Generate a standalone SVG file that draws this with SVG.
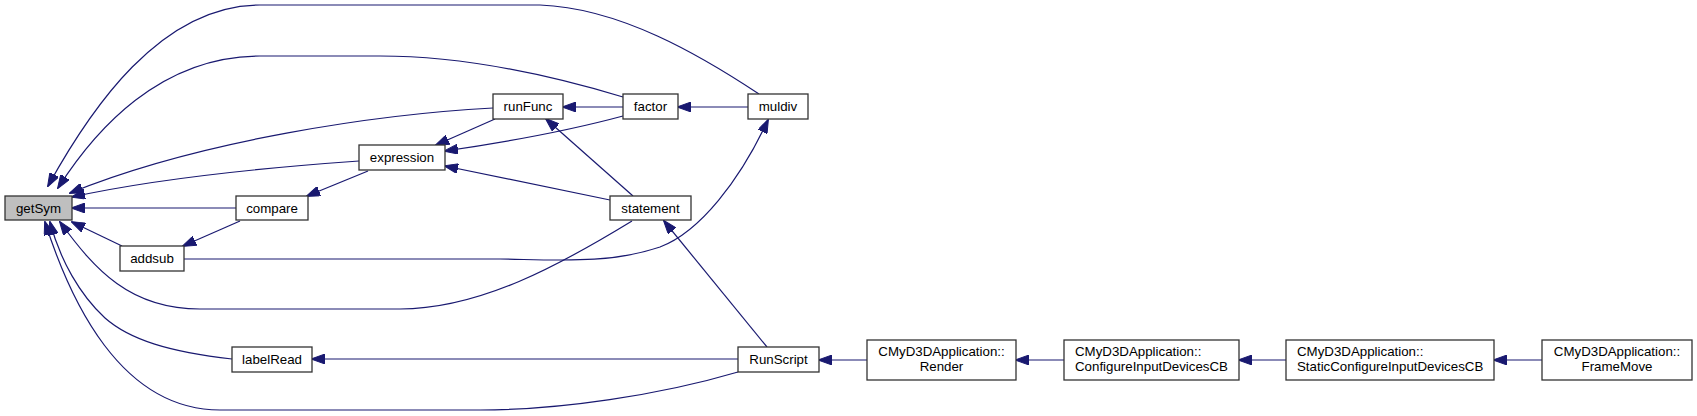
<svg xmlns="http://www.w3.org/2000/svg" width="1697" height="416" viewBox="0 0 1697 416">
<style>
.n rect{fill:#ffffff;stroke:#333333;stroke-width:1.3}
.n text{font-family:"Liberation Sans",Arial,sans-serif;font-size:13.3px;fill:#000000;text-anchor:middle}
#edges path{fill:none;stroke:#191970;stroke-width:1.2;marker-end:url(#ah)}
</style>
<defs>
<marker id="ah" markerUnits="userSpaceOnUse" markerWidth="14" markerHeight="10" viewBox="0 0 14 10" refX="13" refY="5" orient="auto">
<path d="M0,0 L14,5 L0,10 z" fill="#191970" stroke="#191970" stroke-width="1"/>
</marker>
</defs>
<rect width="1697" height="416" fill="#ffffff"/>
<g id="edges">
<path d="M759,94 C700,55 620,8 540,5 L260,5 C160,5 90,110 48,186"/>
<path d="M623,97 C540,72 460,56 380,56 L260,56 C160,56 95,130 58,188"/>
<path d="M493,108 C380,114 200,140 70,193"/>
<path d="M359,161 C260,168 150,180 72,197"/>
<path d="M236,208 L72,208"/>
<path d="M122,246 L72,222"/>
<path d="M632,221 C560,265 480,309 400,309 L200,309 C130,309 95,270 60,222"/>
<path d="M232,359 C170,352 130,340 105,318 C80,295 60,260 50,222"/>
<path d="M738,372 C660,395 560,410 480,410 L220,410 C120,410 70,300 45,222"/>
<path d="M240,221 L183,246"/>
<path d="M368,171 L307,196"/>
<path d="M184,259 L500,259 C560,260 610,264 660,247 C700,232 740,180 768,120"/>
<path d="M495,119 L436,145"/>
<path d="M623,116 C560,133 500,143 445,151"/>
<path d="M610,200 L445,166"/>
<path d="M623,107 L563,107"/>
<path d="M748,107 L678,107"/>
<path d="M633,196 L546,119"/>
<path d="M767,347 L664,221"/>
<path d="M738,359 L312,359"/>
<path d="M867,360 L819,360"/>
<path d="M1064,360 L1016,360"/>
<path d="M1286,360 L1239,360"/>
<path d="M1542,360 L1494,360"/>
</g>
<g id="getSym" class="n"><rect x="5" y="196" width="67" height="24" style="fill:#bfbfbf"/><text x="38.5" y="212.5">getSym</text></g>
<g id="compare" class="n"><rect x="236" y="196" width="72" height="24"/><text x="272" y="212.5">compare</text></g>
<g id="expression" class="n"><rect x="359" y="145" width="86" height="25"/><text x="402" y="162">expression</text></g>
<g id="addsub" class="n"><rect x="120" y="246" width="64" height="25"/><text x="152" y="263">addsub</text></g>
<g id="labelRead" class="n"><rect x="232" y="347" width="80" height="25"/><text x="272" y="364">labelRead</text></g>
<g id="runFunc" class="n"><rect x="493" y="94" width="70" height="25"/><text x="528" y="111">runFunc</text></g>
<g id="factor" class="n"><rect x="623" y="94" width="55" height="25"/><text x="650.5" y="111">factor</text></g>
<g id="muldiv" class="n"><rect x="748" y="94" width="60" height="25"/><text x="778" y="111">muldiv</text></g>
<g id="statement" class="n"><rect x="610" y="196" width="81" height="24"/><text x="650.5" y="212.5">statement</text></g>
<g id="RunScript" class="n"><rect x="738" y="347" width="81" height="25"/><text x="778.5" y="364">RunScript</text></g>
<g id="Render" class="n"><rect x="867" y="340" width="149" height="40"/><text x="941.5" y="356">CMyD3DApplication::</text><text x="941.5" y="371">Render</text></g>
<g id="ConfigureInputDevicesCB" class="n"><rect x="1064" y="340" width="175" height="40"/><text x="1075" y="356" style="text-anchor:start">CMyD3DApplication::</text><text x="1075" y="371" style="text-anchor:start">ConfigureInputDevicesCB</text></g>
<g id="StaticConfigureInputDevicesCB" class="n"><rect x="1286" y="340" width="208" height="40"/><text x="1297" y="356" style="text-anchor:start">CMyD3DApplication::</text><text x="1297" y="371" style="text-anchor:start">StaticConfigureInputDevicesCB</text></g>
<g id="FrameMove" class="n"><rect x="1542" y="340" width="150" height="40"/><text x="1617" y="356">CMyD3DApplication::</text><text x="1617" y="371">FrameMove</text></g>
</svg>
